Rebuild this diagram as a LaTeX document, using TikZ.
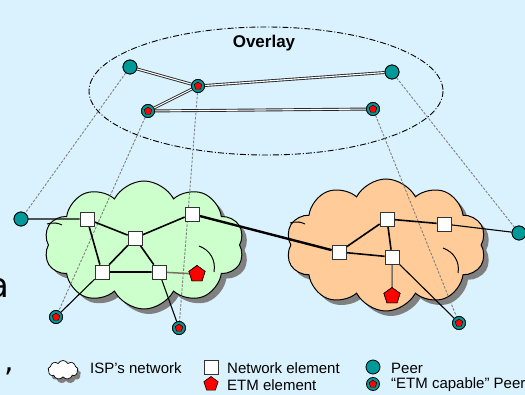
\documentclass[tikz,border=0pt]{standalone}
\usepackage{fontspec}
\setmainfont{Liberation Sans}
\newfontfamily\slidefont{DejaVu Sans}
\usetikzlibrary{shapes.geometric,shapes.symbols}

\definecolor{bgblue}{RGB}{218,242,254}
\definecolor{ispgreen}{RGB}{204,255,204}
\definecolor{isporange}{RGB}{255,204,153}
\definecolor{peerteal}{RGB}{0,153,153}
\definecolor{shadowgray}{RGB}{128,128,128}
\definecolor{etmlink}{RGB}{120,112,100}

\tikzset{
  cloudbase/.style={cloud, cloud puffs=10, cloud puff arc=125, aspect=1.6, inner sep=0pt},
  isp/.style={cloudbase, draw=black, line width=1pt},
  ispshadow/.style={cloudbase, fill=shadowgray, draw=none},
  cloudcrease/.style={draw=black, line width=1pt},
  netel/.style={rectangle, draw=black!80, fill=white, minimum size=14pt, inner sep=0pt, line width=0.7pt},
  etmel/.style={regular polygon, regular polygon sides=5, fill=red, draw=black, line width=0.6pt, minimum size=17pt, inner sep=0pt},
  etmdot/.style={regular polygon, regular polygon sides=5, fill=red, draw=black, line width=0.4pt, minimum size=8pt, inner sep=0pt},
  peer/.style={circle, fill=peerteal, draw=black, line width=0.8pt, minimum size=14pt, inner sep=0pt},
  etmpeer/.style={circle, fill=peerteal, draw=black, line width=0.8pt, minimum size=13pt, inner sep=0pt,
    label={[etmdot]center:}},
  phys/.style={draw=black, line width=1.6pt},
  backbone/.style={draw=black, line width=2.4pt},
  access/.style={draw=black, line width=1.1pt},
  etmlinkstyle/.style={draw=etmlink, line width=1.5pt},
  ovl/.style={draw=black!85, line width=0.9pt, double=white, double distance=1.1pt},
  mapping/.style={draw=black!50, line width=0.9pt, dash pattern=on 2.5pt off 1.5pt},
  overlayring/.style={draw=black, line width=0.9pt, dash pattern=on 6pt off 2pt on 1pt off 2pt},
  legendtext/.style={anchor=west, inner sep=0pt, font=\fontsize{15}{15}\selectfont},
}

\begin{document}
\begin{tikzpicture}[x=1pt, y=-1pt]
  % page and background
  \fill[bgblue] (0,0) rectangle (525,395);
  \useasboundingbox (0,0) rectangle (525,395);

  % remnants of slide text at the left edge
  \node[anchor=base west, inner sep=0pt, font=\fontsize{34}{34}\slidefont] (txta) at (-12,298) {a};
  \node[anchor=base west, inner sep=0pt, font=\fontsize{30}{30}\slidefont] (txtcomma) at (4,372) {,};

  % overlay ring and title
  \draw[overlayring] (266,91) ellipse [x radius=177, y radius=64];
  \node[font=\fontsize{17}{17}\selectfont\bfseries] (title) at (264,43) {Overlay};

  % ISP clouds with shadows
  \node[ispshadow, minimum width=200pt, minimum height=128pt] (lcs) at (149,250) {};
  \node[isp, fill=ispgreen, minimum width=200pt, minimum height=128pt] (lcloud) at (144,245) {};
  \node[ispshadow, minimum width=200pt, minimum height=132pt] (rcs) at (391,250) {};
  \node[isp, fill=isporange, minimum width=200pt, minimum height=132pt] (rcloud) at (386,245) {};

  % inner creases of the clouds
  \draw[cloudcrease] (199,246) .. controls (210,250) and (216,260) .. (214,272);
  \draw[cloudcrease] (443,248) .. controls (454,252) and (460,262) .. (458,273);
  \draw[cloudcrease] (47,224) .. controls (53,222) and (58,223) .. (62,225);
  \draw[cloudcrease] (290,223) .. controls (296,221) and (301,222) .. (305,224);

  % overlay peers
  \node[peer]    (p1) at (130,67) {};
  \node[etmpeer] (p2) at (198,86) {};
  \node[peer]    (p3) at (392,72) {};
  \node[etmpeer] (p4) at (148,111) {};
  \node[etmpeer] (p5) at (373,109) {};

  % left ISP
  \node[peer]    (l0) at (21,219) {};
  \node[netel]   (a1) at (87,219) {};
  \node[netel]   (a2) at (135,238) {};
  \node[netel]   (a3) at (192,214) {};
  \node[netel]   (a4) at (102,272) {};
  \node[netel]   (a5) at (159,272) {};
  \node[etmel]   (e1) at (197,274) {};
  \node[etmpeer] (lp1) at (56,317) {};
  \node[etmpeer] (lp2) at (179,328) {};

  % right ISP
  \node[netel]   (b1) at (339,252) {};
  \node[netel]   (b2) at (387,219) {};
  \node[netel]   (b3) at (444,224) {};
  \node[netel]   (b4) at (392,257) {};
  \node[etmel]   (e2) at (392,296) {};
  \node[etmpeer] (rp1) at (459,323) {};
  \node[peer]    (r0) at (519,233) {};

  % peer mapping between overlay and ISPs
  \path[mapping] (p1) -- (l0);
  \path[mapping] (p4) -- (lp1);
  \path[mapping] (p2) -- (lp2);
  \path[mapping] (p5) -- (rp1);
  \path[mapping] (p3) -- (r0);

  % overlay connections
  \path[ovl] (p1) -- (p2);
  \path[ovl] (p2) -- (p3);
  \path[ovl] (p2) -- (p4);
  \path[ovl] (p4) -- (p5);

  % physical links
  \path[phys] (a1) -- (a2) (a2) -- (a3) (a1) -- (a4) (a2) -- (a4) (a2) -- (a5) (a4) -- (a5);
  \path[phys] (b1) -- (b2) (b1) -- (b4) (b2) -- (b4) (b2) -- (b3);
  \path[backbone] (a3) -- (b1);
  \path[etmlinkstyle] (a5) -- (e1) (b4) -- (e2);
  \path[access] (l0) -- (a1) (a4) -- (lp1) (a5) -- (lp2) (b4) -- (rp1) (b3) -- (r0);

  % nodes drawn again on top of the links
  \foreach \n/\s/\x/\y in {p1/peer/130/67, p2/etmpeer/198/86, p3/peer/392/72, p4/etmpeer/148/111, p5/etmpeer/373/109,
      l0/peer/21/219, a1/netel/87/219, a2/netel/135/238, a3/netel/192/214, a4/netel/102/272, a5/netel/159/272,
      e1/etmel/197/274, lp1/etmpeer/56/317, lp2/etmpeer/179/328,
      b1/netel/339/252, b2/netel/387/219, b3/netel/444/224, b4/netel/392/257, e2/etmel/392/296,
      rp1/etmpeer/459/323, r0/peer/519/233}
    \node[\s] (\n top) at (\x,\y) {};

  % legend
  \node[ispshadow, minimum width=30pt, minimum height=19pt, cloud puffs=9] (lgcs) at (66,374) {};
  \node[isp, fill=white, minimum width=30pt, minimum height=19pt, cloud puffs=9, line width=0.7pt] (lgcloud) at (63,370) {};
  \node[legendtext] (lgisp) at (90,368) {ISP’s network};
  \node[netel] (lgne) at (211,367) {};
  \node[legendtext] (lgnet) at (227,368) {Network element};
  \node[etmel, minimum size=15pt] (lgetm) at (211,384) {};
  \node[legendtext] (lgetmt) at (227,385) {ETM element};
  \node[peer] (lgpeer) at (373,367) {};
  \node[legendtext] (lgpeert) at (391,368) {Peer};
  \node[etmpeer] (lgetmp) at (373,384) {};
  \node[legendtext] (lgetmpt) at (391,385) {“ETM capable” Peer};
\end{tikzpicture}
\end{document}
